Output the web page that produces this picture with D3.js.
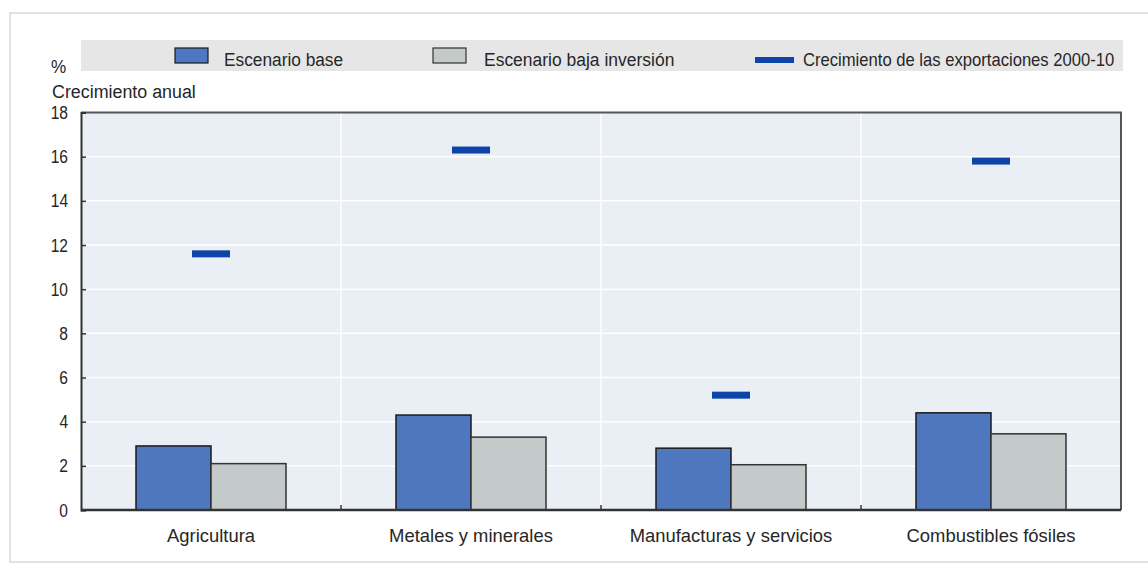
<!DOCTYPE html>
<html><head><meta charset="utf-8">
<script src="https://cdn.jsdelivr.net/npm/d3@7"></script>
<style>
html,body{margin:0;padding:0;background:#fff;}
text{font-family:"Liberation Sans","Arimo",sans-serif;fill:#262626;}
</style></head>
<body>
<svg id="c" width="1148" height="564"></svg>
<script>
const categories = ["Agricultura","Metales y minerales","Manufacturas y servicios","Combustibles fósiles"];
const baseValues = [2.9, 4.3, 2.8, 4.4];
const lowInvValues = [2.1, 3.3, 2.05, 3.45];
const exportGrowth = [11.6, 16.3, 5.2, 15.8];
const yTicks = [0,2,4,6,8,10,12,14,16,18];
const seriesNames = ["Escenario base","Escenario baja inversión","Crecimiento de las exportaciones 2000-10"];

const svg = d3.select("#c");
const L = 81, R = 1121, T = 112.5, B = 510;
const fs = 19;

function narrow(sel, s, origin){
  sel.style("transform-box","fill-box").style("transform-origin",origin)
     .style("transform",`scaleX(${s})`);
}

// outer frame
svg.append("rect").attr("x",10).attr("y",13).attr("width",1160).attr("height",549)
  .attr("fill","none").attr("stroke","#d8d8d8").attr("stroke-width",1.5);

const x = d3.scaleBand().domain(categories).range([L,R]).paddingInner(0).paddingOuter(0);
const y = d3.scaleLinear().domain([0,18]).range([B,T]);
const barW = 75;

// plot bg
svg.append("rect").attr("x",L).attr("y",T).attr("width",R-L).attr("height",B-T).attr("fill","#e9eff5");
// gridlines
svg.append("g").selectAll("line").data(yTicks.filter(d=>d>0&&d<18)).join("line")
  .attr("x1",L).attr("x2",R).attr("y1",d=>y(d)).attr("y2",d=>y(d))
  .attr("stroke","#fff").attr("stroke-width",1.5);
svg.append("g").selectAll("line").data(categories.slice(1)).join("line")
  .attr("x1",d=>x(d)).attr("x2",d=>x(d)).attr("y1",T).attr("y2",B)
  .attr("stroke","#fff").attr("stroke-width",1.5);

// bars
const g = svg.append("g");
g.selectAll("rect.b").data(categories).join("rect").attr("class","b")
  .attr("x",d=>x(d)+x.bandwidth()/2-barW).attr("width",barW)
  .attr("y",(d,i)=>y(baseValues[i])).attr("height",(d,i)=>B-y(baseValues[i]))
  .attr("fill","#4e77c0").attr("stroke","#1a1a1a").attr("stroke-width",1.5);
g.selectAll("rect.g").data(categories).join("rect").attr("class","g")
  .attr("x",d=>x(d)+x.bandwidth()/2).attr("width",barW)
  .attr("y",(d,i)=>y(lowInvValues[i])).attr("height",(d,i)=>B-y(lowInvValues[i]))
  .attr("fill","#c4c9c9").attr("stroke","#333").attr("stroke-width",1.5);
// export markers
g.selectAll("rect.m").data(categories).join("rect").attr("class","m")
  .attr("x",d=>x(d)+x.bandwidth()/2-19).attr("width",38)
  .attr("y",(d,i)=>y(exportGrowth[i])-3.5).attr("height",7)
  .attr("fill","#0d44a8");

// frame top/right
svg.append("path").attr("d",`M${L},${T}H${R}V${B}`).attr("fill","none").attr("stroke","#555").attr("stroke-width",2);

// y axis
const ya = svg.append("g").attr("transform",`translate(${L},0)`)
  .call(d3.axisLeft(y).tickValues(yTicks).tickSize(-5).tickPadding(13));
ya.select(".domain").attr("stroke","#333").attr("stroke-width",2);
ya.selectAll(".tick line").attr("stroke","#333").attr("stroke-width",1.5);
ya.selectAll("text").attr("font-size",fs).attr("fill","#262626")
  .style("font-family","'Liberation Sans',sans-serif");
narrow(ya.selectAll("text"),0.82,"right");

// x axis
const xa = svg.append("g").attr("transform",`translate(0,${B})`)
  .call(d3.axisBottom(x).tickSize(0).tickPadding(19));
xa.select(".domain").attr("stroke","#333").attr("stroke-width",2.5).attr("d",`M${L},0H${R}`);
xa.selectAll("text").attr("font-size",fs).attr("fill","#262626")
  .style("font-family","'Liberation Sans',sans-serif");
narrow(xa.selectAll("text"),0.97,"center");
svg.append("g").selectAll("line").data(categories.slice(1)).join("line")
  .attr("x1",d=>x(d)).attr("x2",d=>x(d)).attr("y1",B).attr("y2",B-5)
  .attr("stroke","#333").attr("stroke-width",1.5);

// axis titles
narrow(svg.append("text").attr("x",51).attr("y",73).attr("font-size",fs).text("%"),0.9,"left");
narrow(svg.append("text").attr("x",52).attr("y",98).attr("font-size",fs).text("Crecimiento anual"),0.94,"left");

// legend
const lg = svg.append("g");
lg.append("rect").attr("x",L).attr("y",40).attr("width",R-L+2).attr("height",31).attr("fill","#e6e6e6");
lg.append("rect").attr("x",175).attr("y",48).attr("width",33).attr("height",15)
  .attr("fill","#4e77c0").attr("stroke","#1a1a1a").attr("stroke-width",1.2);
narrow(lg.append("text").attr("x",224).attr("y",66.5).attr("font-size",fs).text(seriesNames[0]),0.91,"left");
lg.append("rect").attr("x",433).attr("y",48).attr("width",33).attr("height",15)
  .attr("fill","#c4c9c9").attr("stroke","#333").attr("stroke-width",1.2);
narrow(lg.append("text").attr("x",484).attr("y",66.5).attr("font-size",fs).text(seriesNames[1]),0.92,"left");
lg.append("rect").attr("x",755).attr("y",57).attr("width",39).attr("height",6).attr("fill","#0d44a8");
narrow(lg.append("text").attr("x",803).attr("y",66.5).attr("font-size",fs).text(seriesNames[2]),0.875,"left");
</script>
</body></html>
